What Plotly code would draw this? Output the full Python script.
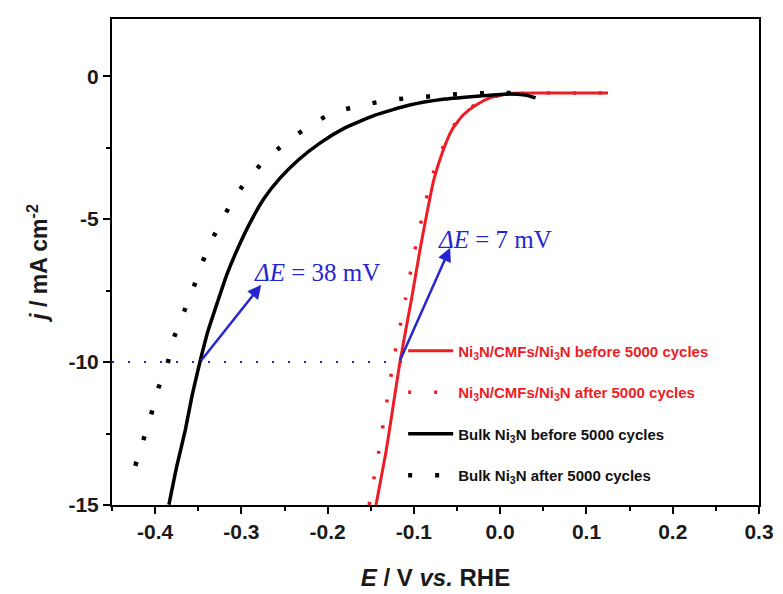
import plotly.graph_objects as go

# ---- data ----
red_before_x = [-0.144, -0.132, -0.123, -0.116, -0.103, -0.093, -0.086, -0.077, -0.066, -0.056,
                -0.043, -0.028, -0.012, 0.002, 0.017, 0.046, 0.092, 0.125]
red_before_y = [-15.0, -13.07, -11.32, -9.96, -7.83, -6.08, -4.96, -3.63, -2.58, -1.88,
                -1.36, -1.01, -0.76, -0.66, -0.60, -0.59, -0.59, -0.59]

red_after_x = [-0.152, -0.140, -0.131, -0.124, -0.110, -0.099, -0.091, -0.080, -0.068, -0.058,
               -0.044, -0.029, -0.012, 0.002, 0.017, 0.05, 0.09, 0.12]
red_after_y = [-15.0, -13.0, -11.3, -10.0, -7.8, -6.1, -5.0, -3.6, -2.6, -1.9,
               -1.36, -1.0, -0.76, -0.66, -0.60, -0.59, -0.59, -0.59]

bulk_before_x = [-0.384, -0.375, -0.365, -0.357, -0.348, -0.339, -0.328, -0.317, -0.304, -0.290,
                 -0.274, -0.255, -0.234, -0.209, -0.180, -0.145, -0.105, -0.064, -0.023, 0.011,
                 0.029, 0.041]
bulk_before_y = [-14.99, -13.66, -12.37, -11.15, -9.99, -8.94, -7.93, -6.95, -6.01, -5.13,
                 -4.29, -3.56, -2.93, -2.34, -1.81, -1.36, -1.01, -0.80, -0.69, -0.62,
                 -0.66, -0.76]

bulk_after_x = [-0.423, -0.414, -0.405, -0.397, -0.386, -0.379, -0.368, -0.356, -0.346, -0.333,
                -0.318, -0.300, -0.276, -0.249, -0.223, -0.195, -0.164, -0.135, -0.105, -0.074,
                -0.045, -0.014, 0.014]
bulk_after_y = [-13.63, -12.76, -11.88, -10.97, -10.1, -9.22, -8.35, -7.44, -6.57, -5.66,
                -4.78, -3.90, -3.03, -2.34, -1.78, -1.29, -1.04, -0.87, -0.76, -0.69,
                -0.62, -0.59, -0.59]

ref_line_x = [-0.45, -0.113]
ref_line_y = [-10, -10]

arrow_tails = [(-0.348, -10.0), (-0.117, -10.0)]
arrow_heads = [(-0.277, -7.3), (-0.058, -6.0)]
delta_labels = ["<i>ΔE</i> = 38 mV", "<i>ΔE</i> = 7 mV"]
delta_label_pos = [(-0.288, -6.85), (-0.075, -5.7)]

x_tickvals = [-0.4, -0.3, -0.2, -0.1, 0.0, 0.1, 0.2, 0.3]
x_ticktext = ["-0.4", "-0.3", "-0.2", "-0.1", "0.0", "0.1", "0.2", "0.3"]
y_tickvals = [0, -5, -10, -15]
y_ticktext = ["0", "-5", "-10", "-15"]

names = [
    "<span style='color:#ee1c25'>Ni<sub>3</sub>N/CMFs/Ni<sub>3</sub>N before 5000 cycles</span>",
    "<span style='color:#ee1c25'>Ni<sub>3</sub>N/CMFs/Ni<sub>3</sub>N after 5000 cycles</span>",
    "Bulk Ni<sub>3</sub>N before 5000 cycles",
    "Bulk Ni<sub>3</sub>N after 5000 cycles",
]

RED = "#ee1c25"
BLACK = "#000000"
BLUE = "#2626d0"

fig = go.Figure()
fig.add_trace(go.Scatter(x=ref_line_x, y=ref_line_y, mode="lines",
                         line=dict(color=BLUE, width=2, dash="2px,14px"), showlegend=False,
                         hoverinfo="skip"))
fig.add_trace(go.Scatter(x=red_before_x, y=red_before_y, mode="lines", name=names[0],
                         line=dict(color=RED, width=3, shape="spline", smoothing=0.5),
                         legendgroup="a"))
fig.add_trace(go.Scatter(x=red_after_x, y=red_after_y, mode="lines", name=names[1],
                         line=dict(color=RED, width=3.5, dash="3px,23px", shape="spline", smoothing=0.5),
                         legendgroup="b"))
fig.add_trace(go.Scatter(x=bulk_before_x, y=bulk_before_y, mode="lines", name=names[2],
                         line=dict(color=BLACK, width=3.5, shape="spline", smoothing=0.5),
                         legendgroup="c"))
fig.add_trace(go.Scatter(x=bulk_after_x, y=bulk_after_y, mode="lines", name=names[3],
                         line=dict(color=BLACK, width=4.5, dash="4px,23px", shape="spline", smoothing=0.5),
                         legendgroup="d"))

for (tx, ty), (hx, hy) in zip(arrow_tails, arrow_heads):
    fig.add_annotation(x=hx, y=hy, ax=tx, ay=ty, xref="x", yref="y", axref="x", ayref="y",
                       text="", showarrow=True, arrowhead=2, arrowsize=1.1, arrowwidth=2.5,
                       arrowcolor=BLUE, standoff=0, startstandoff=0)

for txt, (lx, ly) in zip(delta_labels, delta_label_pos):
    fig.add_annotation(x=lx, y=ly, xref="x", yref="y", text=txt, showarrow=False,
                       xanchor="left", yanchor="middle",
                       font=dict(family="Liberation Serif, Times New Roman, serif", size=25, color=BLUE))

axis_font = dict(family="Liberation Sans, Arial, sans-serif", size=21, color="#1a1a1a", weight=700)

fig.update_xaxes(range=[-0.45, 0.3], tickvals=x_tickvals, ticktext=x_ticktext, automargin=False,
                 ticks="outside", ticklen=7, tickwidth=2, tickcolor="black",
                 minor=dict(dtick=0.05, tick0=0, ticks="outside", ticklen=4, tickwidth=2, tickcolor="black"),
                 showline=True, linewidth=2, linecolor="black", mirror=True,
                 showgrid=False, zeroline=False, tickfont=axis_font,
                 title=dict(text="<i>E</i> / V <i>vs.</i> RHE", font=dict(family="Liberation Sans, Arial, sans-serif",
                            size=24, color="#1a1a1a", weight=700), standoff=27))
fig.update_yaxes(range=[-15, 2], tickvals=y_tickvals, ticktext=y_ticktext, automargin=False,
                 ticks="outside", ticklen=7, tickwidth=2, tickcolor="black",
                 minor=dict(dtick=2.5, tick0=0, ticks="outside", ticklen=4, tickwidth=2, tickcolor="black"),
                 showline=True, linewidth=2, linecolor="black", mirror=True,
                 showgrid=False, zeroline=False, tickfont=axis_font,
                 title=dict(text="<i>j</i> / mA cm<sup>-2</sup>", font=dict(family="Liberation Sans, Arial, sans-serif",
                            size=23, color="#1a1a1a", weight=700), standoff=14))

fig.update_layout(
    width=783, height=594,
    margin=dict(l=112, r=24, t=19, b=89, autoexpand=False),
    plot_bgcolor="white", paper_bgcolor="white",
    legend=dict(x=0.45, y=0.351, xanchor="left", yanchor="top", bgcolor="rgba(0,0,0,0)",
                font=dict(family="Liberation Sans, Arial, sans-serif", size=15, color="#111111", weight=700),
                tracegroupgap=19, itemwidth=45),
)

fig.write_html("out.html")
